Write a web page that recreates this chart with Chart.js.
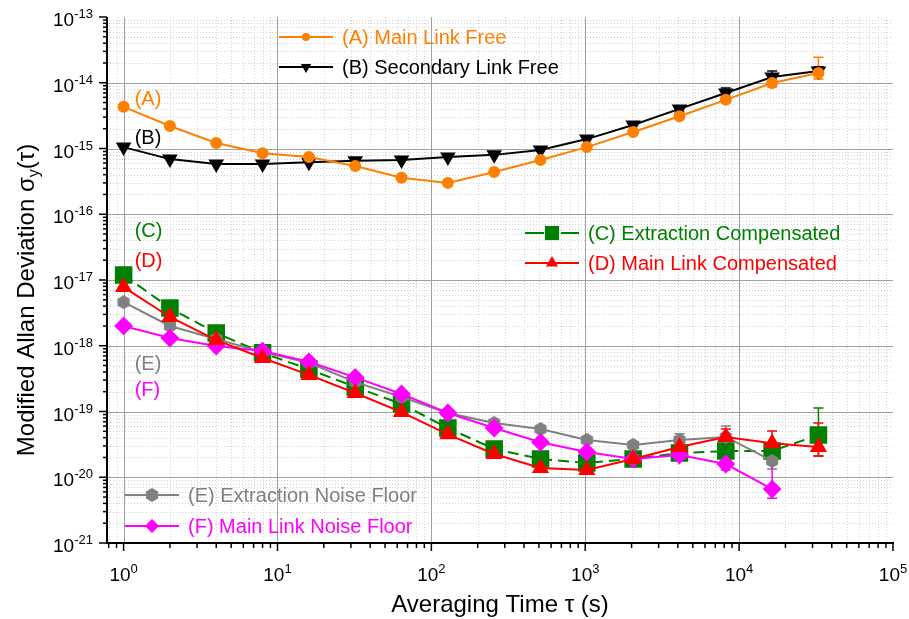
<!DOCTYPE html>
<html>
<head>
<meta charset="utf-8">
<script src="https://cdn.jsdelivr.net/npm/chart.js@4.4.0/dist/chart.umd.min.js"></script>
<style>
  html, body { margin: 0; padding: 0; background: #fff; }
  #wrap { width: 909px; height: 619px; }
</style>
</head>
<body>
<div id="wrap"><canvas id="adevChart" width="909" height="619"></canvas></div>
<script>
// averaging times (s)
const tau = [1, 2, 4, 8, 16, 32, 64, 128, 256, 512, 1024, 2048, 4096, 8192, 16384, 32768];

// modified Allan deviation values
const mainLinkFree = [4.3e-15, 2.2e-15, 1.21e-15, 8.5e-16, 7.4e-16, 5.4e-16, 3.6e-16, 3.0e-16, 4.4e-16, 6.7e-16, 1.05e-15, 1.78e-15, 3.1e-15, 5.5e-15, 9.9e-15, 1.41e-14];
const secondaryLinkFree = [1.05e-15, 6.9e-16, 5.8e-16, 5.8e-16, 6.2e-16, 6.5e-16, 6.7e-16, 7.4e-16, 8.0e-16, 9.5e-16, 1.39e-15, 2.28e-15, 4.0e-15, 7.0e-15, 1.22e-14, 1.51e-14];
const extractionComp = [1.19e-17, 3.75e-18, 1.56e-18, 7.8e-19, 4.4e-19, 2.36e-19, 1.30e-19, 5.6e-20, 2.69e-20, 1.90e-20, 1.65e-20, 1.90e-20, 2.34e-20, 2.5e-20, 2.5e-20, 4.4e-20];
const mainLinkComp = [7.8e-18, 2.74e-18, 1.22e-18, 6.5e-19, 3.6e-19, 1.91e-19, 9.8e-20, 4.5e-20, 2.26e-20, 1.38e-20, 1.29e-20, 1.90e-20, 2.89e-20, 4.1e-20, 3.3e-20, 2.89e-20];
const extractionNoise = [4.6e-18, 2.0e-18, 1.27e-18, 8.0e-19, 5.5e-19, 2.8e-19, 1.66e-19, 9.5e-20, 6.7e-20, 5.4e-20, 3.7e-20, 3.1e-20, 3.7e-20, 4.1e-20, 1.77e-20];
const mainLinkNoise = [2.0e-18, 1.31e-18, 9.9e-19, 8.3e-19, 5.7e-19, 3.3e-19, 1.85e-19, 9.5e-20, 5.6e-20, 3.4e-20, 2.42e-20, 1.90e-20, 2.18e-20, 1.59e-20, 6.6e-21];

// error bars [low, high], null = no bar
const errMainLinkFree = [null, null, null, null, null, null, null, null, null, null, null, null, [2.9e-15, 3.3e-15], [5.0e-15, 6.2e-15], [8.7e-15, 1.12e-14], [1.14e-14, 2.44e-14]];
const errSecondaryLinkFree = [null, null, null, null, null, null, null, null, null, null, null, null, [3.6e-15, 4.4e-15], [6.2e-15, 8.3e-15], [1.0e-14, 1.51e-14], [1.3e-14, 1.75e-14]];
const errExtractionComp = [null, null, null, null, null, null, null, null, null, null, null, null, null, [2.1e-20, 3.0e-20], [2.0e-20, 3.1e-20], [2.1e-20, 1.13e-19]];
const errMainLinkComp = [null, null, null, null, null, null, null, null, null, null, null, null, [2.5e-20, 3.3e-20], [3.3e-20, 5.4e-20], [2.79e-20, 5.05e-20], [2.1e-20, 6.7e-20]];
const errExtractionNoise = [null, null, null, null, null, null, null, null, null, null, null, null, [3.0e-20, 4.6e-20], [3.0e-20, 6.0e-20], [1.33e-20, 2.4e-20]];
const errMainLinkNoise = [null, null, null, null, null, null, null, null, null, null, null, null, null, [1.29e-20, 2.42e-20], [4.8e-21, 1.6e-20]];

const FONT = '"Liberation Sans", Arial, Helvetica, sans-serif';

// hexagon marker for series E
function makeHexagon(color, r) {
    const c = document.createElement('canvas');
    c.width = c.height = 2 * r + 2;
    const g = c.getContext('2d');
    g.fillStyle = color;
    g.beginPath();
    for (let i = 0; i < 6; i++) {
        const a = Math.PI / 2 + i * Math.PI / 3;
        const px = r + 1 + r * Math.cos(a);
        const py = r + 1 + r * Math.sin(a);
        if (i === 0) g.moveTo(px, py); else g.lineTo(px, py);
    }
    g.closePath();
    g.fill();
    return c;
}
const hexGray = makeHexagon('#808080', 7);

function toPoints(vals) {
    return vals.map((v, i) => ({ x: tau[i], y: v }));
}

const datasets = [
    { label: '(A) Main Link Free', tag: '(A)', data: toPoints(mainLinkFree), err: errMainLinkFree,
      borderColor: '#ff8000', backgroundColor: '#ff8000', pointStyle: 'circle', pointRadius: 5,
      borderWidth: 2, order: 1, legend: 0 },
    { label: '(B) Secondary Link Free', tag: '(B)', data: toPoints(secondaryLinkFree), err: errSecondaryLinkFree,
      borderColor: '#000000', backgroundColor: '#000000', pointStyle: 'triangle', pointRotation: 180, pointRadius: 7,
      borderWidth: 2, order: 2, legend: 0 },
    { label: '(C) Extraction Compensated', tag: '(C)', data: toPoints(extractionComp), err: errExtractionComp,
      borderColor: '#008000', backgroundColor: '#008000', pointStyle: 'rect', pointRadius: 11,
      borderWidth: 2, borderDash: [11, 6], order: 6, legend: 1 },
    { label: '(D) Main Link Compensated', tag: '(D)', data: toPoints(mainLinkComp), err: errMainLinkComp,
      borderColor: '#ff0000', backgroundColor: '#ff0000', pointStyle: 'triangle', pointRadius: 8,
      borderWidth: 2, order: 3, legend: 1 },
    { label: '(E) Extraction Noise Floor', tag: '(E)', data: toPoints(extractionNoise), err: errExtractionNoise,
      borderColor: '#808080', backgroundColor: '#808080', pointStyle: hexGray, pointRadius: 7,
      borderWidth: 2, order: 5, legend: 2 },
    { label: '(F) Main Link Noise Floor', tag: '(F)', data: toPoints(mainLinkNoise), err: errMainLinkNoise,
      borderColor: '#ff00ff', backgroundColor: '#ff00ff', pointStyle: 'rectRot', pointRadius: 8,
      borderWidth: 2, order: 4, legend: 2 }
];

// where the side tags "(A)".."(F)" sit, in data units
const tagTau = 1.18;
const tagSigma = [5.5e-15, 1.44e-15, 5.4e-17, 1.88e-17, 5.1e-19, 2.12e-19];

// legend blocks (offsets from the plot area's left/top)
const legendBlocks = [
    { dx: 172, dy: 20, gap: 30 },
    { dx: 418, dy: 216, gap: 30 },
    { dx: 18, dy: 478, gap: 31 }
];

function drawPow(ctx, exp, x, y, align) {
    ctx.font = '19px ' + FONT;
    const wb = ctx.measureText('10').width;
    ctx.font = '13px ' + FONT;
    const we = ctx.measureText(exp).width;
    let x0 = x;
    if (align === 'center') x0 = x - (wb + we) / 2;
    ctx.textAlign = 'left';
    ctx.textBaseline = 'alphabetic';
    ctx.font = '19px ' + FONT;
    ctx.fillText('10', x0, y);
    ctx.font = '13px ' + FONT;
    ctx.fillText(exp, x0 + wb, y - 8);
}

const axesPlugin = {
    id: 'axesPlugin',
    beforeDatasetsDraw(chart) {
        const ctx = chart.ctx, xs = chart.scales.x, ys = chart.scales.y, a = chart.chartArea;
        ctx.save();
        // minor grid (dotted)
        ctx.lineWidth = 1;
        ctx.strokeStyle = '#d4d4d4';
        ctx.setLineDash([1, 2]);
        for (let d = -1; d <= 4; d++) {
            for (let m = 2; m <= 9; m++) {
                const v = m * Math.pow(10, d);
                if (v < xs.min || v > xs.max) continue;
                const px = Math.round(xs.getPixelForValue(v)) + 0.5;
                ctx.beginPath(); ctx.moveTo(px, a.top); ctx.lineTo(px, a.bottom); ctx.stroke();
            }
        }
        for (let d = -21; d <= -14; d++) {
            for (let m = 2; m <= 9; m++) {
                const py = Math.round(ys.getPixelForValue(m * Math.pow(10, d))) + 0.5;
                ctx.beginPath(); ctx.moveTo(a.left, py); ctx.lineTo(a.right, py); ctx.stroke();
            }
        }
        // major grid
        ctx.setLineDash([]);
        ctx.strokeStyle = '#a0a0a0';
        for (let d = 0; d <= 4; d++) {
            const px = Math.round(xs.getPixelForValue(Math.pow(10, d))) + 0.5;
            ctx.beginPath(); ctx.moveTo(px, a.top); ctx.lineTo(px, a.bottom); ctx.stroke();
        }
        for (let d = -20; d <= -14; d++) {
            const py = Math.round(ys.getPixelForValue(Math.pow(10, d))) + 0.5;
            ctx.beginPath(); ctx.moveTo(a.left, py); ctx.lineTo(a.right, py); ctx.stroke();
        }

        // error bars
        ctx.lineWidth = 1.5;
        chart.data.datasets.forEach(ds => {
            ctx.strokeStyle = ds.borderColor;
            ds.err.forEach((e, i) => {
                if (!e) return;
                const px = xs.getPixelForValue(tau[i]);
                const lo = ys.getPixelForValue(e[0]);
                const hi = ys.getPixelForValue(e[1]);
                ctx.beginPath();
                ctx.moveTo(px, lo); ctx.lineTo(px, hi);
                ctx.moveTo(px - 5, lo); ctx.lineTo(px + 5, lo);
                ctx.moveTo(px - 5, hi); ctx.lineTo(px + 5, hi);
                ctx.stroke();
            });
        });
        ctx.restore();
    },
    afterDraw(chart) {
        const ctx = chart.ctx, xs = chart.scales.x, ys = chart.scales.y, a = chart.chartArea;
        ctx.save();
        ctx.strokeStyle = '#000';
        ctx.fillStyle = '#000';
        // axis lines
        ctx.lineWidth = 2;
        ctx.beginPath();
        ctx.moveTo(a.left, a.top); ctx.lineTo(a.left, a.bottom + 1);
        ctx.moveTo(a.left - 1, a.bottom); ctx.lineTo(a.right + 1, a.bottom);
        ctx.stroke();
        // x ticks
        ctx.lineWidth = 1.5;
        for (let d = -1; d <= 5; d++) {
            for (let m = 1; m <= 9; m++) {
                const v = m * Math.pow(10, d);
                if (v < xs.min || v > xs.max) continue;
                const px = xs.getPixelForValue(v);
                ctx.beginPath(); ctx.moveTo(px, a.bottom); ctx.lineTo(px, a.bottom + (m === 1 ? 8 : 5)); ctx.stroke();
            }
        }
        // y ticks
        for (let d = -21; d <= -13; d++) {
            for (let m = 1; m <= 9; m++) {
                const v = m * Math.pow(10, d);
                if (v > ys.max * 1.0001) continue;
                const py = ys.getPixelForValue(v);
                ctx.beginPath(); ctx.moveTo(a.left, py); ctx.lineTo(a.left - (m === 1 ? 8 : 4), py); ctx.stroke();
            }
        }
        // tick labels
        for (let d = 0; d <= 5; d++) {
            drawPow(ctx, String(d), xs.getPixelForValue(Math.pow(10, d)), a.bottom + 38, 'center');
        }
        for (let d = -21; d <= -13; d++) {
            drawPow(ctx, String(d), a.left - 54, ys.getPixelForValue(Math.pow(10, d)) + 9, 'left');
        }
        // x title
        ctx.font = '24px ' + FONT;
        ctx.textAlign = 'center';
        ctx.textBaseline = 'alphabetic';
        ctx.fillText('Averaging Time \u03c4 (s)', (a.left + a.right) / 2, 612);
        // y title with subscript
        ctx.save();
        ctx.translate(34, 300);
        ctx.rotate(-Math.PI / 2);
        const p1 = 'Modified Allan Deviation \u03c3', sub = 'y', p2 = '(\u03c4)';
        ctx.font = '24px ' + FONT;
        const w1 = ctx.measureText(p1).width, w3 = ctx.measureText(p2).width;
        ctx.font = '16px ' + FONT;
        const w2 = ctx.measureText(sub).width;
        let sx = -(w1 + w2 + w3) / 2;
        ctx.textAlign = 'left';
        ctx.font = '24px ' + FONT;
        ctx.fillText(p1, sx, 0);
        ctx.font = '16px ' + FONT;
        ctx.fillText(sub, sx + w1, 5);
        ctx.font = '24px ' + FONT;
        ctx.fillText(p2, sx + w1 + w2, 0);
        ctx.restore();

        // side tags
        ctx.font = '20px ' + FONT;
        ctx.textAlign = 'left';
        ctx.textBaseline = 'middle';
        chart.data.datasets.forEach((ds, i) => {
            ctx.fillStyle = ds.borderColor;
            ctx.fillText(ds.tag, xs.getPixelForValue(tagTau), ys.getPixelForValue(tagSigma[i]));
        });

        // legends
        const rows = [0, 0, 0];
        chart.data.datasets.forEach(ds => {
            const blk = legendBlocks[ds.legend];
            const y = a.top + blk.dy + rows[ds.legend] * blk.gap;
            const x0 = a.left + blk.dx;
            rows[ds.legend]++;
            ctx.strokeStyle = ds.borderColor;
            ctx.fillStyle = ds.borderColor;
            ctx.lineWidth = 2;
            ctx.beginPath();
            if (ds.borderDash) {
                // dashed series: one dash each side of the marker
                ctx.moveTo(x0, y); ctx.lineTo(x0 + 19, y);
                ctx.moveTo(x0 + 36, y); ctx.lineTo(x0 + 54, y);
            } else {
                ctx.moveTo(x0, y); ctx.lineTo(x0 + 54, y);
            }
            ctx.stroke();
            Chart.helpers.drawPoint(ctx, {
                pointStyle: ds.pointStyle, rotation: ds.pointRotation || 0,
                radius: ds.pointRadius - 1, borderWidth: 0
            }, x0 + 27, y);
            ctx.fillStyle = ds.borderColor;
            ctx.font = '20px ' + FONT;
            ctx.textAlign = 'left';
            ctx.textBaseline = 'middle';
            ctx.fillText(ds.label, x0 + 63, y + 1);
        });
        ctx.restore();
    }
};

const ctx = document.getElementById('adevChart').getContext('2d');
const adevChart = new Chart(ctx, {
    type: 'line',
    data: { datasets: datasets },
    options: {
        responsive: false,
        animation: false,
        layout: { padding: { left: 107, right: 16, top: 17, bottom: 76 } },
        elements: {
            line: { tension: 0, fill: false },
            point: { borderWidth: 0, hoverRadius: 0 }
        },
        scales: {
            x: { type: 'logarithmic', display: false, min: 0.78, max: 1e5 },
            y: { type: 'logarithmic', display: false, min: 1e-21, max: 1e-13 }
        },
        plugins: {
            legend: { display: false }, // własna legenda rysowana w pluginie
            tooltip: { enabled: false }
        },
        events: []
    },
    plugins: [axesPlugin]
});
</script>
</body>
</html>
